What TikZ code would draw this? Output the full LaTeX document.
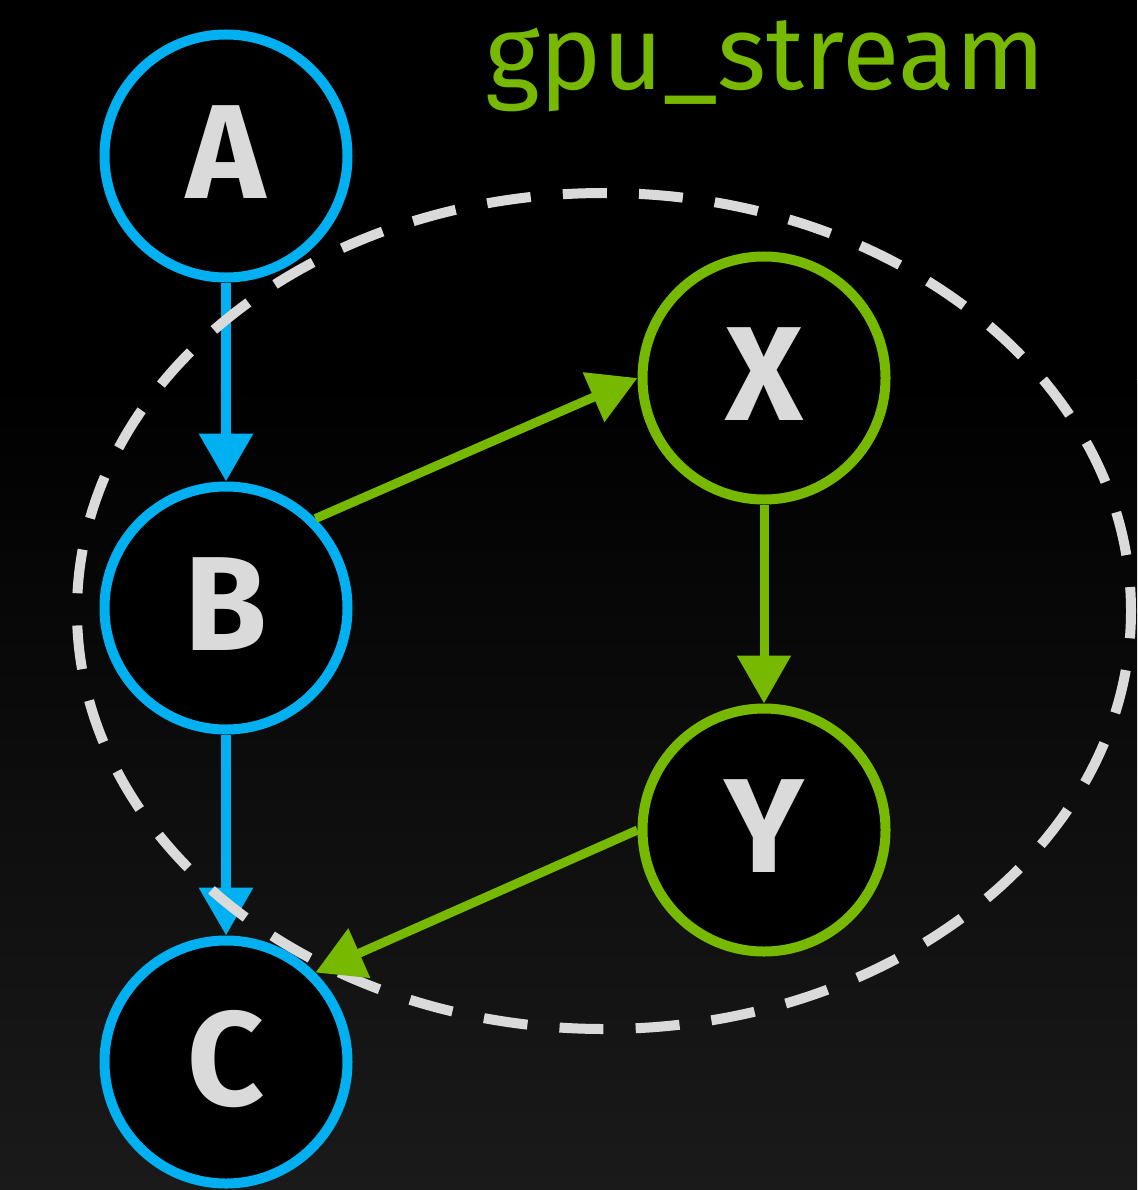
\documentclass[tikz,border=0pt]{standalone}
\usepackage{fontspec}
\setmainfont{Fira Sans}
\usetikzlibrary{arrows.meta}
\definecolor{nvgreen}{HTML}{76B900}
\definecolor{cudablue}{HTML}{00B0F0}
\definecolor{labelgray}{HTML}{DADADA}
\definecolor{bgbottom}{HTML}{1A1A1A}

\begin{document}
\begin{tikzpicture}[x=1pt,y=-1pt,
  vertex/.style={circle, draw, line width=10pt, fill=black, minimum size=243pt,
    inner sep=0pt, text depth=8pt, text=labelgray,
    font=\fontsize{134}{134}\selectfont\bfseries},
  hostnode/.style={vertex, draw=cudablue},
  gpunode/.style={vertex, draw=nvgreen},
  hostedge/.style={draw=cudablue, fill=cudablue, line width=10pt,
    -{Triangle[length=48pt,width=52pt]}},
  gpuedge/.style={draw=nvgreen, fill=nvgreen, line width=9pt,
    -{Triangle[length=48pt,width=52pt]}},
  streamring/.style={draw=labelgray, line width=10pt,
    dash pattern=on 44pt off 32.2pt, dash phase=20pt}]

% background: black, fading to dark grey towards the bottom
\fill[black] (0,0) rectangle (1137,1190);
\shade[top color=black, bottom color=bgbottom] (0,380) rectangle (1137,1190);
\useasboundingbox (0,0) rectangle (1137,1190);

% stream label
\node[anchor=base west, inner sep=0pt, text=nvgreen,
      font=\fontsize{105}{105}\selectfont] (title) at (485,90) {gpu\_stream};

% graph nodes
\node[hostnode] (A) at (226,156) {A};
\node[hostnode] (B) at (226,608) {B};
\node[hostnode] (C) at (226,1062) {C};
\node[gpunode]  (X) at (764,378) {X};
\node[gpunode]  (Y) at (764,830) {Y};

% host-side dependencies
\draw[hostedge] (A.south) -- (B.north);
\draw[hostedge] (B.south) -- (C.north);

% dashed outline of the captured stream
\draw[streamring] (604,611) ellipse [x radius=527pt, y radius=418pt];

% work launched into the stream
\draw[gpuedge] (B.45) -- (X.west);
\draw[gpuedge] (X.south) -- (Y.north);
\draw[gpuedge] (Y.west) -- (C.45);
\end{tikzpicture}
\end{document}
